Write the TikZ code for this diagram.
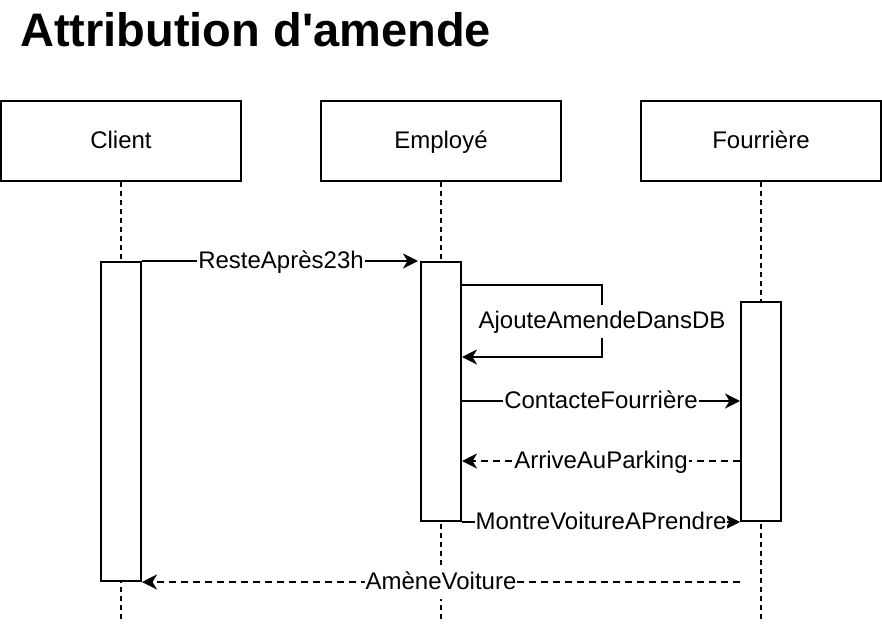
\documentclass[tikz,border=0pt]{standalone}
\usepackage{fontspec}
\setmainfont{Liberation Sans}
\newfontfamily\titlefont{Liberation Sans}[Ligatures=ResetAll]
\usetikzlibrary{arrows.meta,calc}
\begin{document}
\begin{tikzpicture}[x=1pt,y=-1pt,
  every node/.style={font=\fontsize{24}{28}\selectfont},
  actor/.style={draw,line width=2pt,minimum width=240pt,minimum height=80pt,inner sep=0pt,text height=18pt,text depth=4pt},
  act/.style={draw,fill=white,line width=2pt,minimum width=40pt,inner sep=0pt,anchor=north},
  life/.style={line width=2pt,dash pattern=on 5pt off 4pt},
  msg/.style={line width=2pt,-{Stealth[length=15pt,width=15pt,inset=4.5pt]}},
  reply/.style={msg,dash pattern=on 7pt off 5pt},
  lbl/.style={fill=white,inner xsep=1pt,inner ysep=5.5pt,text height=18pt,text depth=4pt}]
\useasboundingbox (0,0) rectangle (882,626);
\node[anchor=base west,inner sep=0pt,font=\titlefont\fontsize{47}{54}\selectfont\bfseries] (title) at (20,46) {Attribution d'amende};
\node[actor] (client) at (121,141) {Client};
\node[actor] (emp) at (441,141) {Employé};
\node[actor] (four) at (761,141) {Fourrière};
\coordinate (cb) at (121,620);
\coordinate (eb) at (441,620);
\coordinate (fb) at (761,620);
\draw[life] (client.south) -- (cb);
\draw[life] (emp.south) -- (eb);
\draw[life] (four.south) -- (fb);
\node[act,minimum height=319pt] (ca) at (121,261) {};
\node[act,minimum height=259pt] (ea) at (441,261) {};
\node[act,minimum height=219pt] (fa) at (761,301) {};
\draw[msg,shorten >=2pt] (ca.north east) -- node[lbl]{ResteAprès23h} (ea.north west);
\draw[msg] ([yshift=-24pt]ea.north east) -- ++(140,0) -- node[lbl]{AjouteAmendeDansDB} ++(0,72) -- ([yshift=-96pt]ea.north east);
\draw[msg] ([yshift=-140pt]ea.north east) -- node[lbl]{ContacteFourrière} ([yshift=-100pt]fa.north west);
\draw[reply] ([yshift=-160pt]fa.north west) -- node[lbl]{ArriveAuParking} ([yshift=-200pt]ea.north east);
\draw[msg] (ea.south east) -- node[lbl]{MontreVoitureAPrendre} (fa.south west);
\draw[reply] ([yshift=-60pt]fa.south west) -- node[lbl]{AmèneVoiture} (ca.south east);
\end{tikzpicture}
\end{document}
